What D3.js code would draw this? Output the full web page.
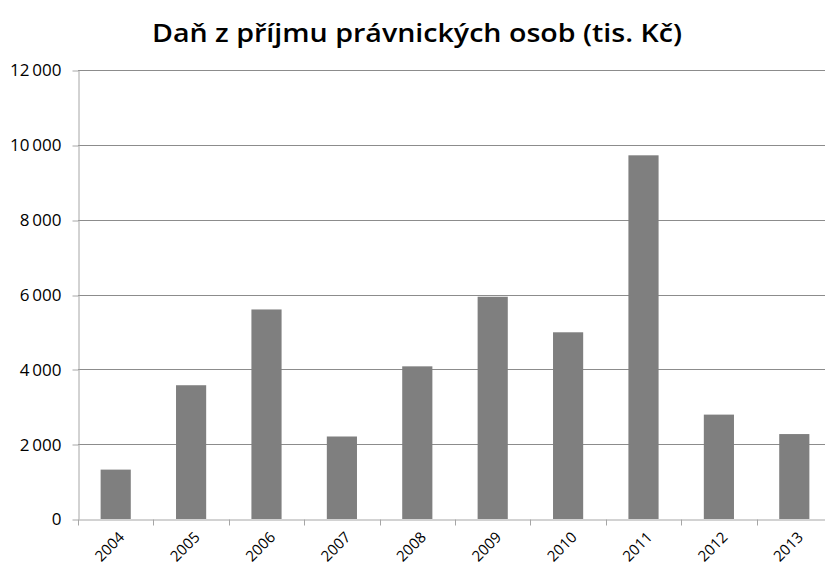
<!DOCTYPE html>
<html>
<head>
<meta charset="utf-8">
<script src="https://cdn.jsdelivr.net/npm/d3@7"></script>
<style>
  body { margin: 0; background: #fff; }
  svg { display: block; font-family: "Open Sans", "Liberation Sans", sans-serif; }
</style>
</head>
<body>
<svg id="chart"></svg>
<script>
// chart data
const years = ['2004', '2005', '2006', '2007', '2008', '2009', '2010', '2011', '2012', '2013'];
const values = [1320, 3575, 5600, 2205, 4080, 5940, 4990, 9720, 2790, 2270];
const yTicks = [0, 2000, 4000, 6000, 8000, 10000, 12000];
const title = 'Daň z příjmu právnických osob (tis. Kč)';

const width = 825, height = 569;
const margin = { top: 70, right: -7, bottom: 50, left: 78 };

const svg = d3.select('#chart')
  .attr('width', width)
  .attr('height', height);

const chartWidth = width - margin.left - margin.right;
const chartHeight = height - margin.top - margin.bottom;

const x = d3.scaleBand()
  .domain(years)
  .range([0, chartWidth])
  .paddingInner(0.6)
  .paddingOuter(0.3);

const y = d3.scaleLinear()
  .domain([0, 12000])
  .range([chartHeight, 0]);

const fmt = d => d3.format(',')(d).replace(/,/g, '\u2006');

const g = svg.append('g')
  .attr('transform', `translate(${margin.left},${margin.top})`);

// Gridlines
g.append('g')
  .selectAll('line')
  .data(yTicks.filter(d => d > 0))
  .enter().append('line')
  .attr('x1', 0)
  .attr('x2', chartWidth)
  .attr('y1', d => Math.round(y(d)) + 0.5)
  .attr('y2', d => Math.round(y(d)) + 0.5)
  .attr('stroke', '#8c8c8c')
  .attr('stroke-width', 1);

// Bars
g.selectAll('.bar')
  .data(years)
  .enter().append('rect')
  .attr('class', 'bar')
  .attr('x', (d, i) => x(d))
  .attr('y', (d, i) => y(values[i]))
  .attr('width', x.bandwidth())
  .attr('height', (d, i) => chartHeight - y(values[i]))
  .attr('fill', '#7f7f7f');

// Y Axis
const yAxis = g.append('g')
  .attr('transform', 'translate(0.5,0)')
  .call(d3.axisLeft(y).tickValues(yTicks).tickFormat(fmt).tickSize(6).tickSizeOuter(0));
yAxis.attr('font-size', null).attr('font-family', null);
yAxis.select('.domain').attr('stroke', '#a6a6a6');
yAxis.selectAll('.tick line').attr('stroke', '#a6a6a6')
  .attr('transform', (d) => `translate(0,${Math.round(y(d)) + 0.5 - y(d)})`);
yAxis.selectAll('text')
  .attr('x', -17)
  .attr('dy', '0.35em')
  .style('font-size', '17px')
  .attr('fill', '#000');

// X Axis
const xAxis = g.append('g')
  .attr('transform', `translate(0,${Math.round(chartHeight) + 0.5})`)
  .call(d3.axisBottom(x).tickSize(0).tickSizeOuter(0));
xAxis.attr('font-size', null).attr('font-family', null);
xAxis.select('.domain').attr('stroke', '#a6a6a6');

// category separators
xAxis.selectAll('.sep')
  .data(years)
  .enter().append('line')
  .attr('class', 'sep')
  .attr('x1', d => Math.round(x(d) - x.step() * x.paddingInner() / 2) + 0.5)
  .attr('x2', d => Math.round(x(d) - x.step() * x.paddingInner() / 2) + 0.5)
  .attr('y1', 0)
  .attr('y2', 6)
  .attr('stroke', '#a6a6a6');

xAxis.selectAll('.tick text')
  .attr('transform', 'translate(6,15) rotate(-45)')
  .attr('dy', '0.35em')
  .attr('y', 0)
  .style('text-anchor', 'end')
  .style('font-size', '15px')
  .attr('fill', '#000');

// Title
svg.append('text')
  .attr('x', 417)
  .attr('y', 42)
  .style('text-anchor', 'middle')
  .style('font-size', '25px')
  .style('font-weight', '600')
  .attr('textLength', 530)
  .attr('lengthAdjust', 'spacingAndGlyphs')
  .text(title);
</script>
</body>
</html>
